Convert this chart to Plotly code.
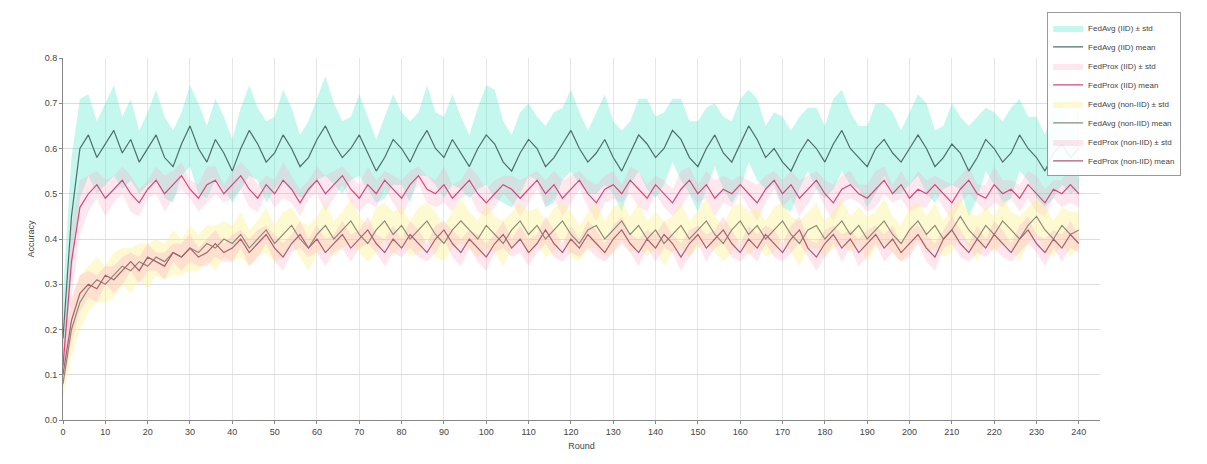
import plotly.graph_objects as go

# communication rounds (every second round is logged)
rounds = list(range(0, 241, 2))

# ---- mean test accuracy per method ----
acc_a = [0.18,0.45,0.60,0.63,0.58,0.61,0.64,0.59,0.62,0.57,0.60,0.63,0.58,0.56,0.61,0.65,0.60,0.57,0.62,0.59,
         0.55,0.60,0.64,0.61,0.57,0.59,0.63,0.60,0.56,0.58,0.62,0.65,0.61,0.58,0.60,0.63,0.59,0.55,0.58,0.62,
         0.60,0.57,0.61,0.64,0.60,0.58,0.62,0.59,0.56,0.60,0.63,0.61,0.57,0.55,0.59,0.62,0.60,0.56,0.58,0.61,
         0.64,0.60,0.57,0.59,0.62,0.58,0.55,0.59,0.63,0.61,0.58,0.60,0.64,0.62,0.58,0.56,0.60,0.63,0.59,0.57,
         0.61,0.65,0.62,0.58,0.60,0.57,0.55,0.59,0.62,0.60,0.57,0.61,0.64,0.60,0.58,0.56,0.60,0.62,0.59,0.57,
         0.60,0.63,0.60,0.56,0.58,0.61,0.59,0.55,0.58,0.62,0.60,0.57,0.59,0.63,0.60,0.58,0.55,0.59,0.61,0.58,0.60]
acc_c = [0.12,0.35,0.47,0.50,0.52,0.49,0.51,0.53,0.50,0.48,0.51,0.53,0.50,0.52,0.54,0.51,0.49,0.52,0.53,0.50,
         0.52,0.54,0.51,0.49,0.52,0.50,0.53,0.51,0.48,0.51,0.53,0.50,0.52,0.54,0.51,0.49,0.52,0.50,0.53,0.51,
         0.49,0.52,0.54,0.51,0.50,0.52,0.49,0.51,0.53,0.50,0.48,0.50,0.52,0.51,0.49,0.51,0.53,0.50,0.52,0.49,
         0.51,0.53,0.50,0.48,0.51,0.52,0.50,0.53,0.51,0.49,0.52,0.50,0.48,0.51,0.53,0.50,0.52,0.49,0.51,0.50,
         0.52,0.50,0.48,0.51,0.53,0.50,0.52,0.49,0.51,0.53,0.50,0.48,0.51,0.52,0.50,0.49,0.51,0.53,0.50,0.52,
         0.49,0.51,0.50,0.52,0.50,0.48,0.51,0.53,0.50,0.49,0.52,0.50,0.51,0.49,0.52,0.50,0.48,0.51,0.50,0.52,0.50]
acc_d = [0.08,0.20,0.26,0.29,0.31,0.30,0.32,0.34,0.33,0.35,0.34,0.36,0.35,0.37,0.36,0.38,0.37,0.39,0.38,0.40,
         0.39,0.41,0.38,0.40,0.42,0.39,0.41,0.43,0.40,0.38,0.41,0.43,0.40,0.42,0.44,0.41,0.39,0.42,0.44,0.41,
         0.43,0.40,0.42,0.44,0.41,0.39,0.42,0.44,0.42,0.40,0.43,0.41,0.39,0.42,0.44,0.41,0.43,0.40,0.42,0.44,
         0.41,0.39,0.42,0.43,0.40,0.42,0.44,0.41,0.43,0.40,0.42,0.39,0.41,0.43,0.40,0.42,0.44,0.41,0.39,0.42,
         0.44,0.41,0.43,0.40,0.42,0.44,0.41,0.39,0.42,0.43,0.40,0.42,0.44,0.41,0.43,0.40,0.42,0.44,0.41,0.39,
         0.42,0.44,0.41,0.43,0.40,0.42,0.45,0.42,0.40,0.43,0.41,0.44,0.42,0.40,0.43,0.45,0.42,0.40,0.43,0.41,0.42]
acc_e = [0.10,0.22,0.28,0.30,0.29,0.32,0.31,0.33,0.35,0.33,0.36,0.35,0.34,0.37,0.36,0.38,0.36,0.37,0.39,0.37,
         0.38,0.40,0.37,0.39,0.41,0.38,0.36,0.39,0.41,0.38,0.40,0.37,0.39,0.41,0.38,0.40,0.42,0.39,0.37,0.40,
         0.38,0.41,0.39,0.37,0.40,0.42,0.39,0.37,0.40,0.38,0.36,0.39,0.41,0.38,0.40,0.37,0.39,0.42,0.39,0.37,
         0.40,0.38,0.41,0.39,0.37,0.40,0.42,0.39,0.37,0.40,0.38,0.41,0.39,0.36,0.39,0.41,0.38,0.40,0.42,0.39,
         0.37,0.40,0.38,0.41,0.39,0.37,0.40,0.42,0.38,0.36,0.39,0.41,0.38,0.40,0.37,0.39,0.41,0.38,0.40,0.37,
         0.39,0.41,0.38,0.36,0.40,0.42,0.39,0.37,0.40,0.38,0.41,0.39,0.37,0.40,0.42,0.39,0.37,0.40,0.38,0.41,0.39]

# ---- standard deviation across clients ----
std_a = [0.10,0.13,0.11,0.09,0.08,0.09,0.10,0.08,0.09,0.07,0.08,0.10,0.09,0.08,0.07,0.09,0.10,0.08,0.09,0.08,
         0.07,0.09,0.10,0.08,0.09,0.08,0.10,0.09,0.07,0.08,0.09,0.11,0.09,0.08,0.07,0.09,0.08,0.07,0.09,0.10,
         0.08,0.09,0.07,0.10,0.08,0.09,0.10,0.08,0.07,0.09,0.11,0.12,0.09,0.08,0.09,0.08,0.07,0.09,0.10,0.08,
         0.09,0.08,0.07,0.09,0.10,0.08,0.09,0.07,0.08,0.10,0.09,0.08,0.07,0.09,0.08,0.10,0.09,0.07,0.08,0.09,
         0.10,0.08,0.09,0.07,0.08,0.10,0.09,0.08,0.07,0.09,0.08,0.10,0.09,0.08,0.07,0.09,0.10,0.08,0.09,0.07,
         0.08,0.09,0.10,0.08,0.07,0.09,0.08,0.10,0.09,0.07,0.08,0.09,0.10,0.08,0.07,0.09,0.08,0.10,0.09,0.08,0.09]
std_c = [0.04,0.08,0.06,0.04,0.03,0.04,0.03,0.03,0.04,0.03,0.02,0.03,0.04,0.03,0.03,0.02,0.03,0.04,0.03,0.02,
         0.03,0.03,0.04,0.03,0.02,0.03,0.04,0.03,0.03,0.02,0.03,0.04,0.03,0.02,0.03,0.03,0.04,0.03,0.02,0.03,
         0.04,0.03,0.02,0.03,0.03,0.04,0.03,0.02,0.03,0.04,0.03,0.03,0.02,0.03,0.04,0.03,0.02,0.03,0.03,0.04,
         0.03,0.02,0.03,0.04,0.03,0.03,0.02,0.03,0.04,0.03,0.02,0.03,0.03,0.04,0.03,0.02,0.03,0.04,0.03,0.03,
         0.02,0.03,0.04,0.03,0.02,0.03,0.03,0.04,0.03,0.02,0.03,0.04,0.03,0.03,0.02,0.03,0.04,0.03,0.02,0.03,
         0.03,0.04,0.03,0.02,0.03,0.04,0.03,0.03,0.02,0.03,0.04,0.03,0.02,0.03,0.03,0.04,0.03,0.02,0.03,0.04,0.03]
std_d = [0.03,0.06,0.06,0.05,0.05,0.04,0.05,0.04,0.05,0.04,0.05,0.04,0.04,0.05,0.04,0.05,0.04,0.04,0.05,0.04,
         0.04,0.05,0.04,0.04,0.05,0.04,0.05,0.04,0.04,0.05,0.04,0.05,0.04,0.04,0.05,0.04,0.04,0.05,0.04,0.05,
         0.04,0.04,0.05,0.04,0.05,0.04,0.04,0.05,0.04,0.04,0.05,0.04,0.05,0.04,0.04,0.05,0.04,0.04,0.05,0.04,
         0.05,0.04,0.04,0.05,0.04,0.05,0.04,0.04,0.05,0.04,0.04,0.05,0.04,0.05,0.04,0.04,0.05,0.04,0.04,0.05,
         0.04,0.05,0.04,0.04,0.05,0.04,0.04,0.05,0.04,0.05,0.04,0.04,0.05,0.04,0.04,0.05,0.04,0.05,0.04,0.04,
         0.05,0.04,0.04,0.05,0.04,0.05,0.04,0.04,0.05,0.04,0.04,0.05,0.04,0.05,0.04,0.04,0.05,0.04,0.04,0.05,0.04]
std_e = [0.03,0.05,0.04,0.03,0.03,0.02,0.03,0.03,0.02,0.03,0.03,0.02,0.03,0.02,0.03,0.03,0.02,0.03,0.03,0.02,
         0.03,0.02,0.03,0.03,0.02,0.03,0.03,0.02,0.03,0.02,0.03,0.03,0.02,0.03,0.03,0.02,0.03,0.02,0.03,0.03,
         0.02,0.03,0.03,0.02,0.03,0.02,0.03,0.03,0.02,0.03,0.03,0.02,0.03,0.02,0.03,0.03,0.02,0.03,0.03,0.02,
         0.03,0.02,0.03,0.03,0.02,0.03,0.03,0.02,0.03,0.02,0.03,0.03,0.02,0.03,0.03,0.02,0.03,0.02,0.03,0.03,
         0.02,0.03,0.03,0.02,0.03,0.02,0.03,0.03,0.02,0.03,0.03,0.02,0.03,0.02,0.03,0.03,0.02,0.03,0.03,0.02,
         0.03,0.02,0.03,0.03,0.02,0.03,0.03,0.02,0.03,0.02,0.03,0.03,0.02,0.03,0.03,0.02,0.03,0.02,0.03,0.03,0.02]

method_names = ["FedAvg (IID)", "FedProx (IID)", "FedAvg (non-IID)", "FedProx (non-IID)"]
x_ticks = list(range(0, 241, 10))
y_ticks = [0.0, 0.1, 0.2, 0.3, 0.4, 0.5, 0.6, 0.7, 0.8]

series = [
    (acc_a, std_a, "#4f6f68", "rgba(60,230,200,0.30)", "solid"),
    (acc_c, std_c, "#d8467a", "rgba(255,160,195,0.25)", "solid"),
    (acc_d, std_d, "#8f8a78", "rgba(250,240,140,0.40)", "solid"),
    (acc_e, std_e, "#b05a70", "rgba(255,175,200,0.32)", "solid"),
]

fig = go.Figure()
# shaded ±std bands first, mean lines on top
for name, (mean, std, line_col, band_col, dash) in zip(method_names, series):
    lo = [m - s for m, s in zip(mean, std)]
    hi = [m + s for m, s in zip(mean, std)]
    fig.add_trace(go.Scatter(x=rounds, y=lo, mode="lines", line=dict(width=0),
                             showlegend=False, hoverinfo="skip", legendgroup=name))
    fig.add_trace(go.Scatter(x=rounds, y=hi, mode="lines", line=dict(width=0),
                             fill="tonexty", fillcolor=band_col,
                             name=name + " ± std", legendgroup=name, legendrank=2))
for name, (mean, std, line_col, band_col, dash) in zip(method_names, series):
    fig.add_trace(go.Scatter(x=rounds, y=mean, mode="lines",
                             line=dict(color=line_col, width=1.2, dash=dash),
                             name=name + " mean", legendgroup=name, legendrank=1))

fig.update_layout(
    width=1207, height=464,
    margin=dict(l=63, r=107, t=47, b=44),
    paper_bgcolor="white", plot_bgcolor="white",
    font=dict(family="Liberation Sans, Arial, sans-serif", size=9, color="#444"),
    legend=dict(x=0.949, y=1.126, xanchor="left", yanchor="top",
                bgcolor="rgba(255,255,255,0.9)", bordercolor="#999", borderwidth=1,
                font=dict(size=8), tracegroupgap=0, itemwidth=30),
    showlegend=True,
)
fig.update_xaxes(range=[0, 245], tickvals=x_ticks, showgrid=True, gridcolor="#e6e6e6",
                 showline=True, linecolor="#888", ticks="outside", ticklen=3,
                 tickcolor="#888", zeroline=False,
                 title=dict(text="Round", font=dict(size=9), standoff=6))
fig.update_yaxes(range=[0, 0.8], tickvals=y_ticks, tickformat=".1f", showgrid=True,
                 gridcolor="#dcdcdc", showline=True, linecolor="#888", ticks="outside",
                 ticklen=3, tickcolor="#888", zeroline=False,
                 title=dict(text="Accuracy", font=dict(size=9), standoff=8))

fig.write_html("out.html")
